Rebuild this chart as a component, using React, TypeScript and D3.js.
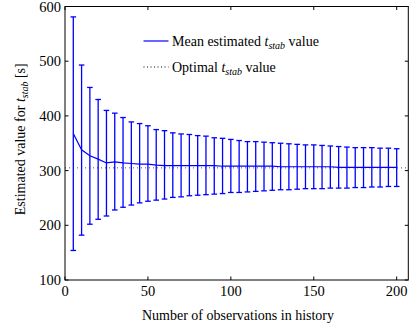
import React from "react";
import * as d3 from "d3";

// observations in history
const obs = [5, 10, 15, 20, 25, 30, 35, 40, 45, 50, 55, 60, 65, 70, 75, 80, 85, 90, 95, 100,
  105, 110, 115, 120, 125, 130, 135, 140, 145, 150, 155, 160, 165, 170, 175, 180, 185, 190, 195, 200];
const meanVal = [368, 338, 327, 321, 314, 316, 314, 313, 312, 312, 310, 309, 309, 309, 309, 309, 309, 309, 308, 308,
  308, 308, 308, 308, 308, 307, 307, 307, 307, 307, 307, 307, 306, 306, 306, 306, 306, 306, 306, 306];
const upperVal = [581, 493, 452, 430, 410, 405, 397, 389, 386, 382, 375, 373, 369, 367, 366, 364, 363, 360, 359, 357,
  355, 353, 353, 352, 351, 350, 349, 348, 347, 347, 346, 345, 344, 343, 342, 342, 342, 341, 341, 340];
const lowerVal = [154, 182, 202, 211, 217, 228, 233, 237, 241, 244, 246, 248, 251, 252, 254, 255, 256, 257, 258, 260,
  260, 261, 262, 263, 264, 265, 265, 266, 267, 267, 267, 268, 268, 268, 269, 269, 270, 270, 271, 271];
const optimal = 305;
const xTicks = [0, 50, 100, 150, 200];
const yTicks = [100, 200, 300, 400, 500, 600];

const W = 409;
const H = 326;
const left = 65, right = 408.3, top = 6.5, bottom = 280;
const blue = "#0000ff";
const font = "Liberation Serif, DejaVu Serif, serif";

export default function App() {
  const x = d3.scaleLinear().domain([0, 207]).range([left, right]);
  const y = d3.scaleLinear().domain([100, 600]).range([bottom, top]);

  const line = d3
    .line<number>()
    .x((_, i) => x(obs[i]))
    .y((d) => y(d));

  const cap = 2.8;

  return (
    <svg width={W} height={H} style={{ position: "absolute", left: 0, top: 0, fontFamily: font }}>
      <rect x={0} y={0} width={W} height={H} fill="#fff" />
      {/* optimal value */}
      <line x1={left} x2={right} y1={y(optimal)} y2={y(optimal)} stroke="#555" strokeWidth={1} strokeDasharray="1,3" />

      {/* error bars */}
      {obs.map((o, i) => (
        <g key={o} stroke={blue} strokeWidth={1.3}>
          <line x1={x(o)} x2={x(o)} y1={y(upperVal[i])} y2={y(lowerVal[i])} />
          <line x1={x(o) - cap} x2={x(o) + cap} y1={y(upperVal[i])} y2={y(upperVal[i])} />
          <line x1={x(o) - cap} x2={x(o) + cap} y1={y(lowerVal[i])} y2={y(lowerVal[i])} />
        </g>
      ))}
      <path d={line(meanVal) || ""} fill="none" stroke={blue} strokeWidth={1.2} />

      {/* box + ticks */}
      <rect x={left} y={top} width={right - left} height={bottom - top} fill="none" stroke="#000" strokeWidth={1} />
      {xTicks.map((t) => (
        <g key={"x" + t}>
          <line x1={x(t)} x2={x(t)} y1={bottom} y2={bottom - 3.5} stroke="#000" />
          <line x1={x(t)} x2={x(t)} y1={top} y2={top + 3.5} stroke="#000" />
          <text x={x(t)} y={296} fontSize={14.5} textAnchor="middle">{t}</text>
        </g>
      ))}
      {yTicks.map((t) => (
        <g key={"y" + t}>
          <line x1={left} x2={left + 3.5} y1={y(t)} y2={y(t)} stroke="#000" />
          <line x1={right} x2={right - 3.5} y1={y(t)} y2={y(t)} stroke="#000" />
          <text x={61} y={y(t) + 5} fontSize={14.5} textAnchor="end">{t}</text>
        </g>
      ))}

      {/* labels */}
      <text x={238} y={320} fontSize={14} textAnchor="middle">Number of observations in history</text>
      <text transform={`translate(25, ${(top + bottom) / 2 - 4}) rotate(-90)`} fontSize={14} textAnchor="middle">
        Estimated value for <tspan fontStyle="italic">t</tspan>
        <tspan fontStyle="italic" fontSize={10} dy={3}>stab</tspan>
        <tspan dy={-3}> [s]</tspan>
      </text>

      {/* legend */}
      <line x1={143.5} x2={168.5} y1={41} y2={41} stroke={blue} strokeWidth={1.2} />
      <line x1={143.5} x2={168.5} y1={67} y2={67} stroke="#000" strokeWidth={1} strokeDasharray="1,2.5" />
      <text x={172} y={46} fontSize={14}>
        Mean estimated <tspan fontStyle="italic">t</tspan>
        <tspan fontStyle="italic" fontSize={10} dy={3}>stab</tspan>
        <tspan dy={-3}> value</tspan>
      </text>
      <text x={172} y={72} fontSize={14}>
        Optimal <tspan fontStyle="italic">t</tspan>
        <tspan fontStyle="italic" fontSize={10} dy={3}>stab</tspan>
        <tspan dy={-3}> value</tspan>
      </text>
    </svg>
  );
}
